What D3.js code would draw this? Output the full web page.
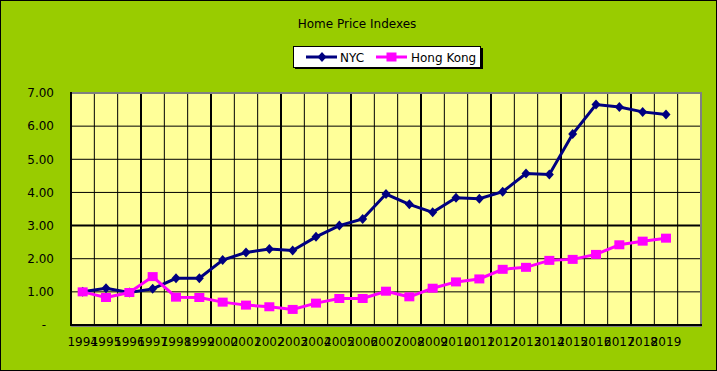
<!DOCTYPE html>
<html>
<head>
<meta charset="utf-8">
<script src="https://cdn.jsdelivr.net/npm/d3@7/dist/d3.min.js"></script>
<style>
  body { margin: 0; background: #fff; }
  text { font-family: "DejaVu Sans", Verdana, sans-serif; font-size: 12px; fill: #000; }
</style>
</head>
<body>
<div id="chart"></div>
<script>
var svgWidth = 717;
var svgHeight = 371;

// data
var years = ["1994", "1995", "1996", "1997", "1998", "1999", "2000", "2001", "2002",
    "2003", "2004", "2005", "2006", "2007", "2008", "2009", "2010", "2011", "2012",
    "2013", "2014", "2015", "2016", "2017", "2018", "2019"];
var nycValues = [1.00, 1.11, 0.98, 1.09, 1.41, 1.41, 1.96, 2.19, 2.29, 2.25, 2.66, 3.00,
    3.20, 3.95, 3.64, 3.40, 3.84, 3.81, 4.02, 4.57, 4.54, 5.76, 6.65, 6.58, 6.43, 6.35];
var hkValues = [1.00, 0.83, 0.98, 1.46, 0.84, 0.83, 0.69, 0.60, 0.55, 0.47, 0.66, 0.80,
    0.80, 1.02, 0.85, 1.11, 1.30, 1.39, 1.68, 1.74, 1.95, 1.98, 2.13, 2.42, 2.53, 2.62];
var yTicks = [0, 1, 2, 3, 4, 5, 6, 7];
var seriesNames = ["NYC", "Hong Kong"];

var plot = { left: 71, right: 701, top: 93, bottom: 325 };

var svg = d3.select("#chart")
    .append("svg")
    .attr("width", svgWidth)
    .attr("height", svgHeight);

// chart background + frame
svg.append("rect")
    .attr("x", 0.5).attr("y", 0.5)
    .attr("width", svgWidth - 1).attr("height", svgHeight - 1)
    .attr("fill", "#99cc00")
    .attr("stroke", "#000");

// one empty slot after 2019, like the original sheet
var slots = years.concat([""]);

var x = d3.scaleBand().domain(slots).range([plot.left, plot.right]).padding(0);
var y = d3.scaleLinear().domain([0, 7]).range([plot.bottom, plot.top]);

// plot area
svg.append("rect")
    .attr("x", plot.left).attr("y", plot.top)
    .attr("width", plot.right - plot.left).attr("height", plot.bottom - plot.top)
    .attr("fill", "#ffff99");

// gridlines
svg.append("g")
    .selectAll("line")
    .data(slots.slice(1))
    .enter()
    .append("line")
        .attr("x1", d => x(d)).attr("x2", d => x(d))
        .attr("y1", plot.top).attr("y2", plot.bottom)
        .attr("stroke", "#000")
        .attr("stroke-width", (d, i) => (i + 1) % 3 === 0 ? 2 : 1);

svg.append("g")
    .selectAll("line")
    .data(yTicks.slice(1, -1))
    .enter()
    .append("line")
        .attr("x1", plot.left).attr("x2", plot.right)
        .attr("y1", d => y(d)).attr("y2", d => y(d))
        .attr("stroke", "#000")
        .attr("stroke-width", d => d === 3 ? 2 : 1);

// gray border top/right, shadow under bottom
svg.append("path")
    .attr("d", `M${plot.left},${plot.top} H${plot.right} V${plot.bottom + 1} H${plot.left}`)
    .attr("fill", "none")
    .attr("stroke", "#808080")
    .attr("stroke-width", 2);

// axes
var bottomAxis = d3.axisBottom(x).tickValues(years).tickSize(0).tickPadding(12);
var leftAxis = d3.axisLeft(y).tickValues(yTicks).tickSize(0).tickPadding(17)
    .tickFormat(d => d === 0 ? "-" : d3.format(".2f")(d));

var xAxisG = svg.append("g")
    .attr("transform", `translate(0, ${plot.bottom})`)
    .call(bottomAxis);
xAxisG.select(".domain").remove();
xAxisG.selectAll("text").style("font-size", "12px").style("font-family", "DejaVu Sans");

var yAxisG = svg.append("g")
    .attr("transform", `translate(${plot.left}, 0)`)
    .call(leftAxis);
yAxisG.select(".domain").remove();
yAxisG.selectAll("text").style("font-size", "12px").style("font-family", "DejaVu Sans")
    .attr("dx", d => d === 0 ? -8 : 0);

svg.append("line")
    .attr("x1", plot.left).attr("x2", plot.right + 1)
    .attr("y1", plot.bottom).attr("y2", plot.bottom)
    .attr("stroke", "#000").attr("stroke-width", 2);
svg.append("line")
    .attr("x1", plot.left).attr("x2", plot.left)
    .attr("y1", plot.top - 1).attr("y2", plot.bottom + 1)
    .attr("stroke", "#000").attr("stroke-width", 2);

// series
var cx = d => x(d) + x.bandwidth() / 2;
var diamond = "M0,-5L4.5,0L0,5L-4.5,0Z";

var nycLine = d3.line().x((d, i) => cx(years[i])).y(d => y(d));
svg.append("path")
    .datum(nycValues)
    .attr("d", nycLine)
    .attr("fill", "none")
    .attr("stroke", "#000080")
    .attr("stroke-width", 3);
svg.append("g")
    .selectAll("path")
    .data(nycValues)
    .enter()
    .append("path")
        .attr("d", diamond)
        .attr("transform", (d, i) => `translate(${cx(years[i])}, ${y(d)})`)
        .attr("fill", "#000080");

svg.append("path")
    .datum(hkValues)
    .attr("d", nycLine)
    .attr("fill", "none")
    .attr("stroke", "#ff00ff")
    .attr("stroke-width", 3);
svg.append("g")
    .selectAll("rect")
    .data(hkValues)
    .enter()
    .append("rect")
        .attr("x", (d, i) => cx(years[i]) - 5)
        .attr("y", d => y(d) - 4.5)
        .attr("width", 10)
        .attr("height", 9)
        .attr("fill", "#ff00ff");

// title
svg.append("text")
    .attr("x", 357)
    .attr("y", 28)
    .attr("text-anchor", "middle")
    .text("Home Price Indexes");

// legend
var legend = svg.append("g");
legend.append("rect")
    .attr("x", 295).attr("y", 48).attr("width", 188).attr("height", 21)
    .attr("fill", "#000");
legend.append("rect")
    .attr("x", 293.5).attr("y", 46.5).attr("width", 187).attr("height", 21)
    .attr("fill", "#fff").attr("stroke", "#000");

legend.append("line")
    .attr("x1", 306).attr("x2", 337).attr("y1", 57).attr("y2", 57)
    .attr("stroke", "#000080").attr("stroke-width", 3);
legend.append("path")
    .attr("d", diamond)
    .attr("transform", "translate(322, 57)")
    .attr("fill", "#000080");
legend.append("text").attr("x", 340).attr("y", 61.5).text(seriesNames[0]);

legend.append("line")
    .attr("x1", 376).attr("x2", 407).attr("y1", 57).attr("y2", 57)
    .attr("stroke", "#ff00ff").attr("stroke-width", 3);
legend.append("rect")
    .attr("x", 386.5).attr("y", 52.5).attr("width", 10).attr("height", 9)
    .attr("fill", "#ff00ff");
legend.append("text").attr("x", 411).attr("y", 61.5).text(seriesNames[1]);
</script>
</body>
</html>
